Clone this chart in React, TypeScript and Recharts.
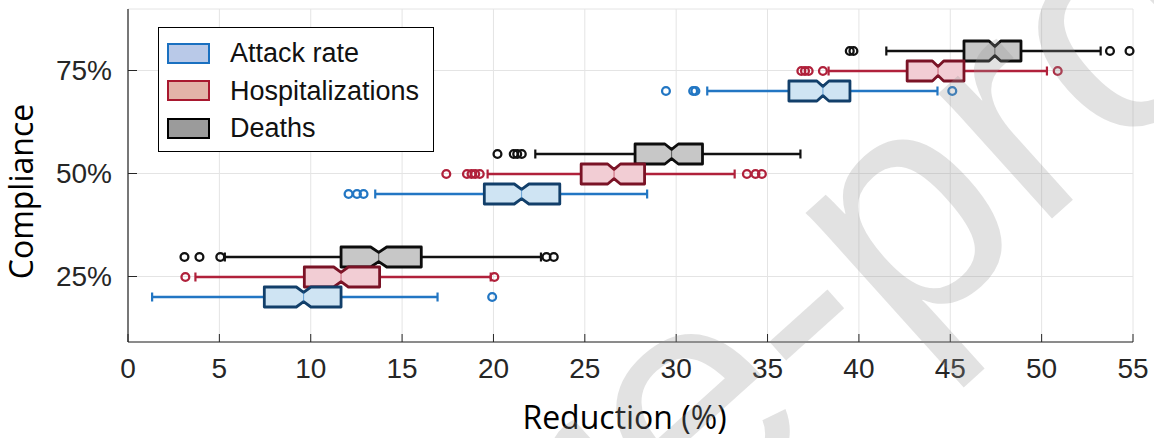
import { Bar, CartesianGrid, ComposedChart, Legend, XAxis, YAxis } from 'recharts';

document.body.style.margin = '0';

const compliance = ['75%', '50%', '25%'];
const xTicks = [0, 5, 10, 15, 20, 25, 30, 35, 40, 45, 50, 55];

// Attack rate
const attackLo = [31.7, 13.53, 1.32];
const attackQ1 = [36.17, 19.5, 7.46];
const attackMed = [38.03, 21.54, 9.61];
const attackQ3 = [39.51, 23.63, 11.66];
const attackHi = [44.3, 28.41, 16.94];
const attackNotch = [0.33, 0.4, 0.4];
const attackOut = [[29.44, 30.93, 31.05, 45.11], [12.07, 12.53, 12.89], [19.93]];

// Hospitalizations
const hospLo = [38.34, 19.68, 3.69];
const hospQ1 = [42.64, 24.8, 9.65];
const hospMed = [44.33, 26.6, 11.66];
const hospQ3 = [45.75, 28.27, 13.77];
const hospHi = [50.29, 33.2, 19.85];
const hospNotch = [0.31, 0.35, 0.4];
const hospOut = [
  [36.85, 37.05, 37.25, 38.03, 50.88],
  [17.42, 18.55, 18.8, 19.0, 19.25, 33.87, 34.34, 34.69],
  [3.14, 20.05],
];

// Deaths
const deathLo = [41.5, 22.29, 5.3];
const deathQ1 = [45.75, 27.75, 11.66];
const deathMed = [47.44, 29.75, 13.72];
const deathQ3 = [48.87, 31.44, 16.05];
const deathHi = [53.23, 36.8, 22.6];
const deathNotch = [0.32, 0.37, 0.44];
const deathOut = [
  [39.5, 39.7, 53.74, 54.81],
  [20.22, 21.11, 21.3, 21.55],
  [3.09, 3.91, 5.05, 22.9, 23.3],
];

type Key = 'attack' | 'hosp' | 'death';

const series: Record<Key, { lo: number[]; q1: number[]; med: number[]; q3: number[]; hi: number[]; notch: number[]; out: number[][] }> = {
  attack: { lo: attackLo, q1: attackQ1, med: attackMed, q3: attackQ3, hi: attackHi, notch: attackNotch, out: attackOut },
  hosp: { lo: hospLo, q1: hospQ1, med: hospMed, q3: hospQ3, hi: hospHi, notch: hospNotch, out: hospOut },
  death: { lo: deathLo, q1: deathQ1, med: deathMed, q3: deathQ3, hi: deathHi, notch: deathNotch, out: deathOut },
};

const styles: Record<Key, { box: string; line: string; fill: string }> = {
  attack: { box: '#123f6a', line: '#2276c3', fill: '#cfe4f3' },
  hosp: { box: '#7a1326', line: '#b0213b', fill: '#f2cdd4' },
  death: { box: '#0d0d0d', line: '#111111', fill: '#c7c7c7' },
};

const legendItems = [
  { name: 'Attack rate', fill: '#b9c9e8', stroke: '#1a70c0' },
  { name: 'Hospitalizations', fill: '#e3b3a8', stroke: '#a8182f' },
  { name: 'Deaths', fill: '#9b9b9b', stroke: '#000000' },
];

const rows = compliance.map((c, i) => {
  const row: any = { compliance: c };
  (Object.keys(series) as Key[]).forEach((k) => {
    const s = series[k];
    const stats = { lo: s.lo[i], q1: s.q1[i], med: s.med[i], q3: s.q3[i], hi: s.hi[i], notch: s.notch[i], out: s.out[i] };
    row[k] = stats;
    row[k + 'Range'] = [Math.min(stats.lo, ...stats.out), Math.max(stats.hi, ...stats.out)];
  });
  return row;
});

const tickFont = '"Liberation Sans", Arial, Helvetica, sans-serif';
const axisColor = '#262626';

// notched box + whiskers + outliers, positioned from the bar's own range geometry
const makeBoxShape = (key: Key) => (props: any) => {
  const { x, y, width, height, payload } = props;
  const s = payload[key];
  const [min, max] = payload[key + 'Range'];
  const st = styles[key];
  const px = (v: number) => x + ((v - min) / (max - min)) * width;
  const cy = y + height / 2;
  const top = y;
  const bottom = y + height;
  const dent = height * 0.27;
  const m = px(s.med);
  const nl = px(s.med - s.notch);
  const nr = px(s.med + s.notch);
  const path = [
    `M${px(s.q1)},${top}`,
    `L${nl},${top}`,
    `L${m},${top + dent}`,
    `L${nr},${top}`,
    `L${px(s.q3)},${top}`,
    `L${px(s.q3)},${bottom}`,
    `L${nr},${bottom}`,
    `L${m},${bottom - dent}`,
    `L${nl},${bottom}`,
    `L${px(s.q1)},${bottom}`,
    'Z',
  ].join(' ');
  return (
    <g>
      <line x1={px(s.lo)} x2={px(s.q1)} y1={cy} y2={cy} stroke={st.line} strokeWidth={2.5} />
      <line x1={px(s.q3)} x2={px(s.hi)} y1={cy} y2={cy} stroke={st.line} strokeWidth={2.5} />
      <line x1={px(s.lo)} x2={px(s.lo)} y1={cy - 4.5} y2={cy + 4.5} stroke={st.line} strokeWidth={2.2} />
      <line x1={px(s.hi)} x2={px(s.hi)} y1={cy - 4.5} y2={cy + 4.5} stroke={st.line} strokeWidth={2.2} />
      <path d={path} fill={st.fill} stroke={st.box} strokeWidth={2.8} strokeLinejoin="round" />
      <line x1={m} x2={m} y1={top + dent} y2={bottom - dent} stroke={st.line} strokeWidth={1} opacity={0.6} />
      {s.out.map((v: number, j: number) => (
        <circle key={j} cx={px(v)} cy={cy} r={3.9} fill="none" stroke={st.line} strokeWidth={2.3} />
      ))}
    </g>
  );
};

const BottomTick = ({ x, y, payload }: any) => (
  <g>
    <line x1={x} x2={x} y1={y - 16} y2={y - 24} stroke={axisColor} strokeWidth={1} />
    <text x={x} y={y} dy="0.71em" textAnchor="middle" fontFamily={tickFont} fontSize={28} fill={axisColor}>
      {payload.value}
    </text>
  </g>
);

const TopTick = ({ x, y }: any) => <line x1={x} x2={x} y1={y} y2={y + 8} stroke={axisColor} strokeWidth={1} />;

const LeftTick = ({ x, y, payload }: any) => (
  <g>
    <line x1={x + 16} x2={x + 25} y1={y} y2={y} stroke={axisColor} strokeWidth={1} />
    <text x={x} y={y} dy="0.355em" textAnchor="end" fontFamily={tickFont} fontSize={28} fill={axisColor}>
      {payload.value}
    </text>
  </g>
);

const RightTick = ({ x, y }: any) => <line x1={x} x2={x - 9} y1={y} y2={y} stroke={axisColor} strokeWidth={1} />;

const LegendBox = () => (
  <div
    style={{
      width: 276,
      height: 125,
      boxSizing: 'border-box',
      border: '1.5px solid #000',
      background: '#fff',
      position: 'relative',
      fontFamily: tickFont,
      fontSize: 27,
      color: '#111',
    }}
  >
    {legendItems.map((it, i) => (
      <div key={it.name} style={{ position: 'absolute', left: 8, top: 13 + i * 37.5, height: 24, display: 'flex', alignItems: 'center' }}>
        <div style={{ width: 43, height: 21, boxSizing: 'border-box', background: it.fill, border: `2.8px solid ${it.stroke}` }} />
        <span style={{ marginLeft: 20, lineHeight: '24px' }}>{it.name}</span>
      </div>
    ))}
  </div>
);

export default function App() {
  return (
    <div style={{ position: 'relative', width: 1154, height: 438, background: '#fff' }}>
      <ComposedChart
        width={1154}
        height={438}
        data={rows}
        layout="vertical"
        margin={{ top: 9, right: 21, bottom: 0, left: 0 }}
        barGap={0}
        barCategoryGap={0}
      >
        <CartesianGrid stroke="#e4e4e4" strokeWidth={1} />
        <XAxis
          type="number"
          domain={[0, 55]}
          ticks={xTicks}
          interval={0}
          height={96}
          tickSize={0}
          tickMargin={16}
          tick={<BottomTick />}
          axisLine={{ stroke: axisColor, strokeWidth: 1.2 }}
          label={(p: any) => {
            const vb = p.viewBox;
            return (
              <text x={vb.x + vb.width / 2 - 6} y={vb.y + 87} textAnchor="middle" fontFamily='"Open Sans", sans-serif' fontSize={32} fill="#000">
                Reduction (%)
              </text>
            );
          }}
        />
        <XAxis
          xAxisId="top"
          orientation="top"
          type="number"
          domain={[0, 55]}
          ticks={xTicks}
          interval={0}
          height={0}
          tickSize={0}
          tickMargin={0}
          tick={<TopTick />}
          axisLine={{ stroke: axisColor, strokeWidth: 1.2 }}
        />
        <YAxis
          type="category"
          dataKey="compliance"
          width={128}
          padding={{ top: 10, bottom: 14 }}
          tickSize={0}
          tickMargin={16}
          tick={<LeftTick />}
          axisLine={{ stroke: axisColor, strokeWidth: 1.2 }}
          label={(p: any) => {
            const vb = p.viewBox;
            const cx = vb.x + 33;
            const cy = vb.y + vb.height / 2 + 16;
            return (
              <text x={cx} y={cy} transform={`rotate(-90 ${cx} ${cy})`} textAnchor="middle" fontFamily='"Open Sans", sans-serif' fontSize={32} fill="#000">
                Compliance
              </text>
            );
          }}
        />
        <YAxis
          yAxisId="right"
          orientation="right"
          type="category"
          dataKey="compliance"
          width={0}
          padding={{ top: 10, bottom: 14 }}
          tickSize={0}
          tickMargin={0}
          tick={<RightTick />}
          axisLine={{ stroke: axisColor, strokeWidth: 1.2 }}
        />
        <Legend
          layout="horizontal"
          verticalAlign="middle"
          align="center"
          wrapperStyle={{ left: 158, top: 27, width: 276, height: 125 }}
          content={() => <LegendBox />}
        />
        <Bar dataKey="deathRange" name="Deaths" barSize={20} shape={makeBoxShape('death')} isAnimationActive={false} />
        <Bar dataKey="hospRange" name="Hospitalizations" barSize={20} shape={makeBoxShape('hosp')} isAnimationActive={false} />
        <Bar dataKey="attackRange" name="Attack rate" barSize={20} shape={makeBoxShape('attack')} isAnimationActive={false} />
      </ComposedChart>
      {/* "Journal Pre-proof" watermark, crossing the plot */}
      <svg width={1154} height={438} style={{ position: 'absolute', left: 0, top: 0, pointerEvents: 'none' }}>
        <text
          transform="translate(454,757) rotate(-42)"
          fontFamily={tickFont}
          fontSize={320}
          fill="rgba(150,150,150,0.28)"
        >
          Pre-proof
        </text>
      </svg>
    </div>
  );
}
